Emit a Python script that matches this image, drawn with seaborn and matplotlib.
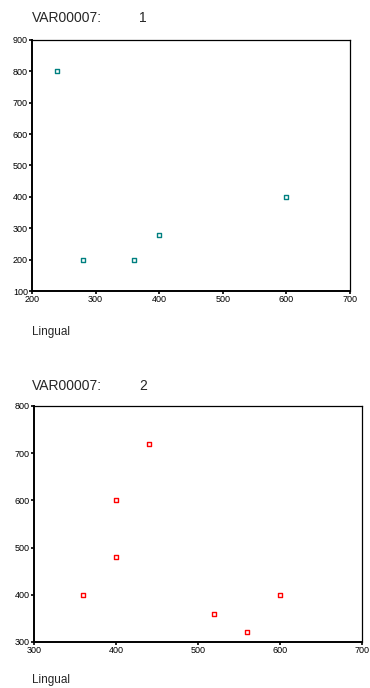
import seaborn as sns
import pandas as pd
import matplotlib.pyplot as plt

# group 1 (VAR00007 = 1)
lingual_1 = [240, 280, 360, 400, 600]
value_1 = [800, 200, 200, 280, 400]
# group 2 (VAR00007 = 2)
lingual_2 = [360, 400, 400, 440, 520, 560, 600]
value_2 = [400, 600, 480, 720, 360, 320, 400]

xticks_1 = [200, 300, 400, 500, 600, 700]
yticks_1 = [100, 200, 300, 400, 500, 600, 700, 800, 900]
xticks_2 = [300, 400, 500, 600, 700]
yticks_2 = [300, 400, 500, 600, 700, 800]

sns.set_style("white")
plt.rcParams['font.family'] = ['Liberation Sans', 'DejaVu Sans']

fig = plt.figure(figsize=(3.7, 6.88), dpi=100)
ax1 = fig.add_axes([0.0865, 0.577, 0.8595, 0.365])
ax2 = fig.add_axes([0.092, 0.067, 0.886, 0.343])

panels = [
    (ax1, lingual_1, value_1, '#008080', xticks_1, yticks_1, '1', 18, 332),
    (ax2, lingual_2, value_2, '#ff0000', xticks_2, yticks_2, '2', 386, 680),
]

for ax, xs, ys, col, xt, yt, grp, title_y, lab_y in panels:
    df = pd.DataFrame({'Lingual': xs, 'Value': ys})
    sns.scatterplot(data=df, x='Lingual', y='Value', ax=ax, marker='s',
                    s=12, facecolor='white', edgecolor=col, linewidth=1.0)
    ax.set_xlim(xt[0], xt[-1])
    ax.set_ylim(yt[0], yt[-1])
    ax.set_xticks(xt)
    ax.set_yticks(yt)
    ax.set_xlabel('')
    ax.set_ylabel('')
    ax.tick_params(labelsize=6.5, length=2, width=1.2, direction='out',
                   pad=1, bottom=True, left=True, colors='black')
    for side in ['left', 'bottom']:
        ax.spines[side].set_linewidth(1.4)
        ax.spines[side].set_color('black')
    for side in ['top', 'right']:
        ax.spines[side].set_linewidth(0.9)
        ax.spines[side].set_color('black')
    fig.text(32 / 370, 1 - title_y / 688, 'VAR00007:', fontsize=10,
             va='center', ha='left')
    fig.text(139 / 370, 1 - title_y / 688, grp, fontsize=10,
             va='center', ha='left')
    fig.text(32 / 370, 1 - lab_y / 688, 'Lingual', fontsize=8.5,
             va='center', ha='left')

plt.savefig('out.png', dpi=100)
